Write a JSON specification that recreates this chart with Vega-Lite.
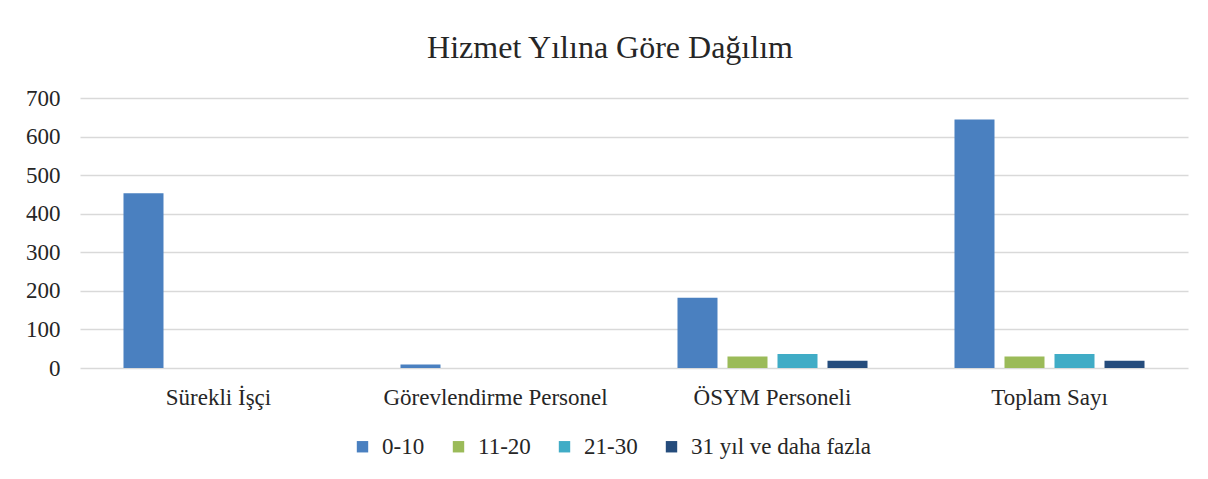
{
  "$schema": "https://vega.github.io/schema/vega-lite/v6.json",
  "autosize": {"type": "none"},
  "width": 1108,
  "height": 270,
  "padding": {"left": 80, "top": 98, "right": 20, "bottom": 111},
  "background": "white",
  "title": {
    "text": "Hizmet Yılına Göre Dağılım",
    "font": "Liberation Serif",
    "fontSize": 32,
    "fontWeight": "normal",
    "color": "#262626",
    "anchor": "middle",
    "dx": -24,
    "offset": 22
  },
  "data": {
    "values": [
      {"kategori": "Sürekli İşçi", "grup": "0-10", "deger": 453},
      {"kategori": "Sürekli İşçi", "grup": "11-20", "deger": 0},
      {"kategori": "Sürekli İşçi", "grup": "21-30", "deger": 0},
      {"kategori": "Sürekli İşçi", "grup": "31 yıl ve daha fazla", "deger": 0},
      {"kategori": "Görevlendirme Personel", "grup": "0-10", "deger": 9},
      {"kategori": "Görevlendirme Personel", "grup": "11-20", "deger": 0},
      {"kategori": "Görevlendirme Personel", "grup": "21-30", "deger": 0},
      {"kategori": "Görevlendirme Personel", "grup": "31 yıl ve daha fazla", "deger": 0},
      {"kategori": "ÖSYM Personeli", "grup": "0-10", "deger": 182},
      {"kategori": "ÖSYM Personeli", "grup": "11-20", "deger": 30},
      {"kategori": "ÖSYM Personeli", "grup": "21-30", "deger": 36},
      {"kategori": "ÖSYM Personeli", "grup": "31 yıl ve daha fazla", "deger": 19},
      {"kategori": "Toplam Sayı", "grup": "0-10", "deger": 644},
      {"kategori": "Toplam Sayı", "grup": "11-20", "deger": 30},
      {"kategori": "Toplam Sayı", "grup": "21-30", "deger": 36},
      {"kategori": "Toplam Sayı", "grup": "31 yıl ve daha fazla", "deger": 19}
    ]
  },
  "mark": {"type": "bar", "stroke": null},
  "encoding": {
    "x": {
      "field": "kategori",
      "type": "nominal",
      "sort": ["Sürekli İşçi", "Görevlendirme Personel", "ÖSYM Personeli", "Toplam Sayı"],
      "scale": {"paddingInner": 0.314, "paddingOuter": 0.157},
      "axis": {
        "title": null,
        "labelAngle": 0,
        "labelFont": "Liberation Serif",
        "labelFontSize": 23,
        "labelColor": "#262626",
        "labelPadding": 18,
        "labelLimit": 400,
        "ticks": false,
        "domain": false
      }
    },
    "xOffset": {
      "field": "grup",
      "type": "nominal",
      "sort": ["0-10", "11-20", "21-30", "31 yıl ve daha fazla"],
      "scale": {"paddingInner": 0.2, "paddingOuter": 0}
    },
    "y": {
      "field": "deger",
      "type": "quantitative",
      "scale": {"domain": [0, 700]},
      "axis": {
        "title": null,
        "values": [0, 100, 200, 300, 400, 500, 600, 700],
        "labelFont": "Liberation Serif",
        "labelFontSize": 23,
        "labelColor": "#262626",
        "labelPadding": 20,
        "ticks": false,
        "domain": false,
        "gridColor": "#d9d9d9",
        "gridWidth": 1.5
      }
    },
    "color": {
      "field": "grup",
      "type": "nominal",
      "sort": ["0-10", "11-20", "21-30", "31 yıl ve daha fazla"],
      "scale": {
        "domain": ["0-10", "11-20", "21-30", "31 yıl ve daha fazla"],
        "range": ["#4a80c0", "#9bbb59", "#40acc6", "#254c7c"]
      },
      "legend": {
        "title": null,
        "orient": "none",
        "legendX": 271,
        "legendY": 337,
        "direction": "horizontal",
        "symbolType": "square",
        "symbolSize": 130,
        "symbolStrokeWidth": 0,
        "labelFont": "Liberation Serif",
        "labelFontSize": 23,
        "labelColor": "#262626",
        "labelLimit": 400,
        "columnPadding": 22,
        "labelOffset": 8
      }
    }
  },
  "config": {
    "view": {"stroke": null}
  }
}
